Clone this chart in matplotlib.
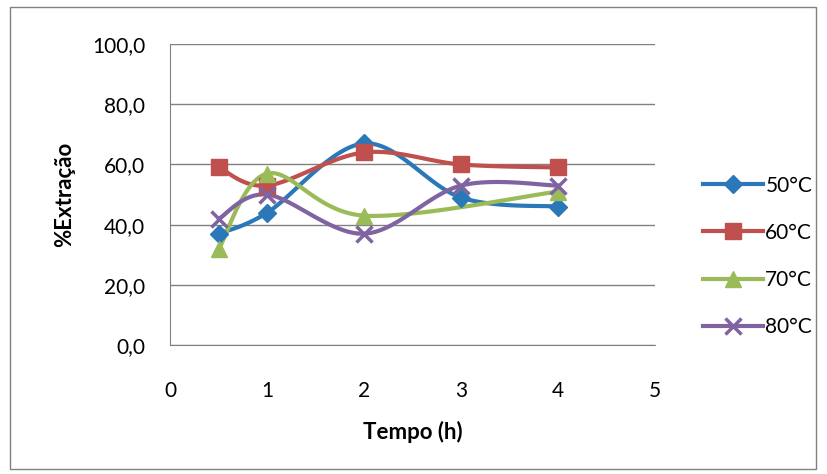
import numpy as np
import matplotlib
matplotlib.use("Agg")
import matplotlib.pyplot as plt
from matplotlib.patches import Rectangle

plt.rcParams['font.family'] = ['Lato', 'DejaVu Sans']

# Data
tempo = [0.5, 1, 2, 3, 4]
ext_50 = [37, 44, 67, 49, 46]
ext_60 = [59, 53, 64, 60, 59]
tempo_70 = [0.5, 1, 2, 4]
ext_70 = [32, 57, 43, 51]
ext_80 = [42, 50, 37, 53, 53]
labels = ['50°C', '60°C', '70°C', '80°C']
y_ticks = [0, 20, 40, 60, 80, 100]
x_ticks = [0, 1, 2, 3, 4, 5]


def smooth(x, y, n=30):
    # Excel-style smoothed line: cubic Bezier with Catmull-Rom control points
    x = np.asarray(x, float)
    y = np.asarray(y, float)
    px, py = [], []
    t = np.linspace(0, 1, n)
    for i in range(len(x) - 1):
        x0, y0 = (x[i - 1], y[i - 1]) if i > 0 else (x[i], y[i])
        x3, y3 = (x[i + 2], y[i + 2]) if i + 2 < len(x) else (x[i + 1], y[i + 1])
        c1x = x[i] + (x[i + 1] - x0) / 6
        c1y = y[i] + (y[i + 1] - y0) / 6
        c2x = x[i + 1] - (x3 - x[i]) / 6
        c2y = y[i + 1] - (y3 - y[i]) / 6
        bx = (1 - t)**3 * x[i] + 3 * (1 - t)**2 * t * c1x + 3 * (1 - t) * t**2 * c2x + t**3 * x[i + 1]
        by = (1 - t)**3 * y[i] + 3 * (1 - t)**2 * t * c1y + 3 * (1 - t) * t**2 * c2y + t**3 * y[i + 1]
        px.extend(bx)
        py.extend(by)
    return px, py


fig = plt.figure(figsize=(8.27, 4.74), dpi=100)
ax = fig.add_axes([0.206, 0.272, 0.586, 0.635])

series = [
    (tempo, ext_50, '#2A78B8', 'D', 9),
    (tempo, ext_60, '#C0504D', 's', 11),
    (tempo_70, ext_70, '#9BBB59', '^', 11),
    (tempo, ext_80, '#8064A2', 'x', 11),
]

for (xs, ys, color, marker, ms), lab in zip(series, labels):
    sx, sy = smooth(xs, ys)
    ax.plot(sx, sy, color=color, linewidth=3, zorder=3)
    ax.plot(xs, ys, linestyle='none', marker=marker, color=color, markersize=ms,
            markeredgewidth=2.5 if marker == 'x' else 1, zorder=4)
    ax.plot([], [], color=color, linewidth=3, marker=marker, markersize=ms,
            markeredgewidth=2.5 if marker == 'x' else 1, label=lab)

ax.set_xlim(0, 5)
ax.set_ylim(0, 100)
ax.set_xticks(x_ticks)
ax.set_yticks(y_ticks)
ax.set_yticklabels([f"{v:.1f}".replace('.', ',') for v in y_ticks])
ax.tick_params(axis='both', length=0, labelsize=15)
ax.tick_params(axis='x', pad=26)
ax.tick_params(axis='y', pad=18)
ax.yaxis.grid(True, color='#808080', linewidth=1)
ax.set_axisbelow(True)
for s in ['top', 'right']:
    ax.spines[s].set_visible(False)
for s in ['left', 'bottom']:
    ax.spines[s].set_color('#808080')

ax.set_xlabel('Tempo (h)', fontsize=16, fontweight='bold', labelpad=14)
ax.set_ylabel('%Extração', fontsize=16, fontweight='bold', labelpad=12)

ax.legend(loc='center left', bbox_to_anchor=(1.06, 0.295), frameon=False,
          fontsize=15, labelspacing=1.3, handlelength=2.9, handletextpad=0.1)

fig.patches.append(Rectangle((0.012, 0.01), 0.975, 0.975, transform=fig.transFigure,
                             fill=False, edgecolor='#808080', linewidth=1))

fig.savefig('out.png', dpi=100)
